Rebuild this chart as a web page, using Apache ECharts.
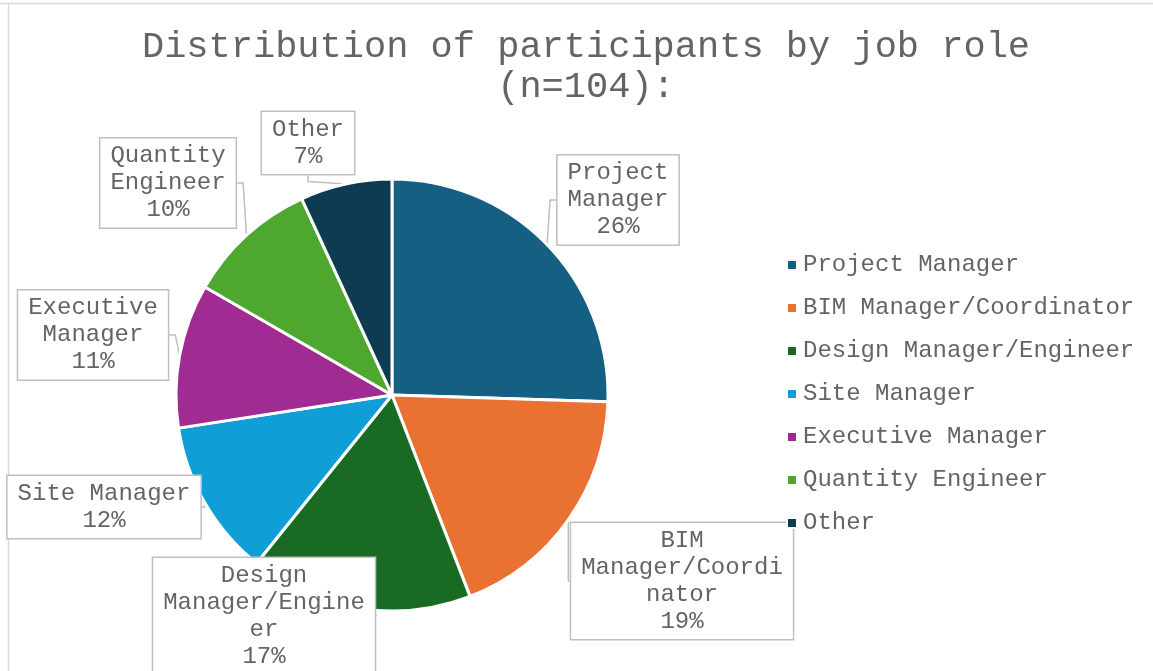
<!DOCTYPE html>
<html>
<head>
<meta charset="utf-8">
<script src="https://cdn.jsdelivr.net/npm/echarts@6/dist/echarts.min.js"></script>
<style>
  html, body { margin: 0; padding: 0; background: #fff; }
  #chart { width: 1153px; height: 671px; }
</style>
</head>
<body>
<div id="chart"></div>
<script>
// ---- data ----
const categories = ['Project Manager', 'BIM Manager/Coordinator', 'Design Manager/Engineer', 'Site Manager', 'Executive Manager', 'Quantity Engineer', 'Other'];
const shares = [26, 19, 17, 12, 11, 10, 7];
const titleText = 'Distribution of participants by job role\n(n=104):';

// ---- styling / layout ----
const colors = ['#156082', '#e97132', '#196b24', '#0f9ed5', '#a02b93', '#4ea72e', '#0e3a52'];
const wrapChars = [8, 14, 14, 12, 9, 8, 5];
const labelPos = [[618, 200], [682, 581], [264, 616], [104, 507], [93, 335], [168, 183], [308, 143]];
const FONT = "'Liberation Mono', 'Courier New', monospace";
const TEXT = '#646464';

function wrap(text, n) {
  const words = text.split(' ');
  const lines = [];
  let cur = '';
  words.forEach(w => {
    let word = w;
    if (cur && (cur + ' ' + word).length <= n) { cur += ' ' + word; return; }
    if (cur) { lines.push(cur); cur = ''; }
    while (word.length > n) { lines.push(word.slice(0, n)); word = word.slice(n); }
    cur = word;
  });
  if (cur) lines.push(cur);
  return lines.join('\n');
}

const chart = echarts.init(document.getElementById('chart'), null, { renderer: 'canvas' });
chart.setOption({
  animation: false,
  backgroundColor: '#ffffff',
  color: colors,
  title: {
    text: titleText,
    left: 586,
    top: 27,
    padding: 0,
    textAlign: 'center',
    textStyle: { fontFamily: FONT, fontSize: 37, fontWeight: 'normal', color: TEXT, lineHeight: 40 }
  },
  legend: {
    orient: 'vertical',
    left: 786,
    top: 253,
    padding: 0,
    icon: 'rect',
    itemWidth: 10,
    itemHeight: 10,
    itemGap: 19,
    data: categories,
    textStyle: { fontFamily: FONT, fontSize: 24, color: TEXT, lineHeight: 24, padding: [0, 0, 0, 1] }
  },
  graphic: [
    { type: 'line', shape: { x1: 0, y1: 3.5, x2: 1153, y2: 3.5 }, style: { stroke: '#d9d9d9', lineWidth: 1.5 }, z: -1 },
    { type: 'line', shape: { x1: 8.5, y1: 3, x2: 8.5, y2: 671 }, style: { stroke: '#d9d9d9', lineWidth: 1.5 }, z: -1 }
  ],
  series: [{
    type: 'pie',
    center: [392, 395],
    radius: 216,
    startAngle: 90,
    clockwise: true,
    avoidLabelOverlap: false,
    itemStyle: { borderColor: '#ffffff', borderWidth: 3 },
    data: categories.map((c, i) => ({ name: c, value: shares[i] })),
    label: {
      show: true,
      position: 'outside',
      formatter: p => wrap(p.name, wrapChars[p.dataIndex]) + '\n' + shares[p.dataIndex] + '%',
      fontFamily: FONT,
      fontSize: 24,
      lineHeight: 27,
      color: TEXT,
      align: 'center',
      backgroundColor: '#ffffff',
      borderColor: '#bfbfbf',
      borderWidth: 1.5,
      padding: [4, 10]
    },
    labelLine: { show: true, length: 6, length2: 6, lineStyle: { color: '#bfbfbf', width: 1.5 } },
    labelLayout: function (params) {
      const pos = labelPos[params.dataIndex];
      return { x: pos[0], y: pos[1], align: 'center', verticalAlign: 'middle' };
    },
    emphasis: { disabled: true }
  }]
});
</script>
</body>
</html>
